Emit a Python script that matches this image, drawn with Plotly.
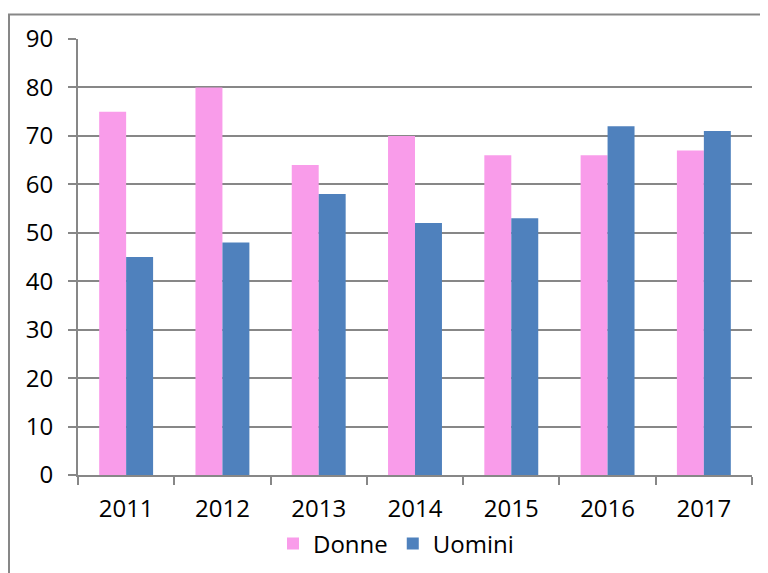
import plotly.graph_objects as go

years = ["2011", "2012", "2013", "2014", "2015", "2016", "2017"]
donne = [75, 80, 64, 70, 66, 66, 67]
uomini = [45, 48, 58, 52, 53, 72, 71]
y_ticks = [0, 10, 20, 30, 40, 50, 60, 70, 80, 90]

OFF = 8  # page body margin
W, H = 768 - OFF, 573 - OFF
L, R, T, B = 78 - OFF, 16, 38.5 - OFF, 98
pw, ph = W - L - R, H - T - B
base = T + ph  # pixel y of zero line in figure coords

fig = go.Figure()
fig.add_trace(go.Bar(name="Donne", x=years, y=donne, marker=dict(color="#F99CEA", line=dict(width=0))))
fig.add_trace(go.Bar(name="Uomini", x=years, y=uomini, marker=dict(color="#4F81BD", line=dict(width=0))))

font = dict(family="Open Sans", size=24, color="#000000")
grey = "#878787"

fig.update_layout(
    width=W, height=H,
    margin=dict(l=L, r=R, t=T, b=B, pad=0, autoexpand=False),
    paper_bgcolor="white", plot_bgcolor="white",
    barmode="group", bargap=0.44, bargroupgap=0,
    font=font,
    showlegend=True,
    legend=dict(orientation="h", xref="container", x=(396 - OFF) / W, xanchor="center",
                yref="container", y=1 - (544 - OFF) / H, yanchor="middle",
                font=font, bgcolor="rgba(0,0,0,0)", itemwidth=30, traceorder="normal"),
    xaxis=dict(showline=True, linecolor=grey, linewidth=2, ticks="outside",
               tickson="boundaries", ticklen=8, tickcolor=grey, tickwidth=2,
               showgrid=False, tickfont=font, ticklabelstandoff=11, automargin=False),
    yaxis=dict(range=[0, 90], tickvals=y_ticks, showline=True, linecolor=grey, linewidth=2,
               ticks="outside", ticklen=8, tickcolor=grey, tickwidth=2,
               showgrid=True, gridcolor=grey, gridwidth=1.5, zeroline=False,
               tickfont=font, ticklabelstandoff=10, automargin=False),
    shapes=[dict(type="rect", xref="paper", yref="paper",
                 x0=(9 - 78) / pw, x1=(W + 20 - L) / pw,
                 y0=-(H + 20 - base) / ph, y1=(base - (14 - OFF)) / ph,
                 line=dict(color=grey, width=2), fillcolor="rgba(0,0,0,0)", layer="below")],
)

fig.write_html("out.html")
